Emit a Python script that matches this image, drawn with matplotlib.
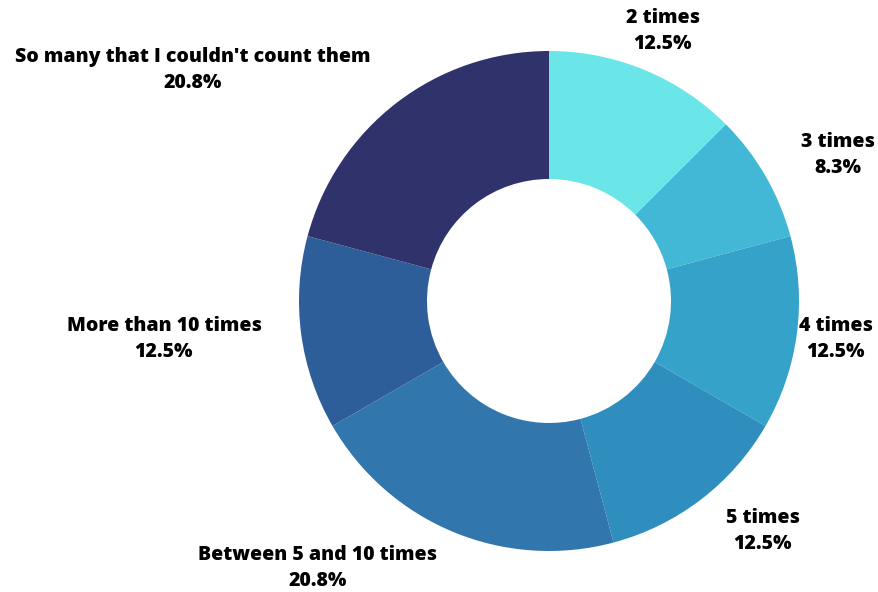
import matplotlib
matplotlib.use("Agg")
import matplotlib.pyplot as plt

categories = ["2 times", "3 times", "4 times", "5 times",
              "Between 5 and 10 times", "More than 10 times",
              "So many that I couldn't count them"]
shares = [12.5, 8.3, 12.5, 12.5, 20.8, 12.5, 20.8]
colors = ["#6ae5e8", "#42b7d6", "#35a2c9", "#2f8ebd", "#3176ac", "#2e5e99", "#30336b"]

# label centres in figure pixel coordinates (x from left, y from top)
label_pos = [(663, 31), (838, 155), (836, 339), (763, 531),
             (318, 568), (164, 339), (193, 70)]

W, H = 879, 592
fig = plt.figure(figsize=(W / 100, H / 100), dpi=100)
ax = fig.add_axes([0, 0, 1, 1])

outer_r = 250
inner_r = 122
ax.pie(shares, colors=colors, startangle=90, counterclock=False,
       center=(549, H - 301), radius=outer_r, frame=True,
       wedgeprops=dict(width=outer_r - inner_r, linewidth=0))
ax.set_xlim(0, W)
ax.set_ylim(0, H)
ax.set_aspect("equal")
ax.axis("off")

for name, val, (px, py) in zip(categories, shares, label_pos):
    ax.text(px, H - py, f"{name}\n{val:.1f}%", ha="center", va="center",
            family=["Open Sans", "DejaVu Sans"], fontweight="heavy",
            fontsize=14, color="#000000", linespacing=1.45)

fig.savefig("out.png", dpi=100)
